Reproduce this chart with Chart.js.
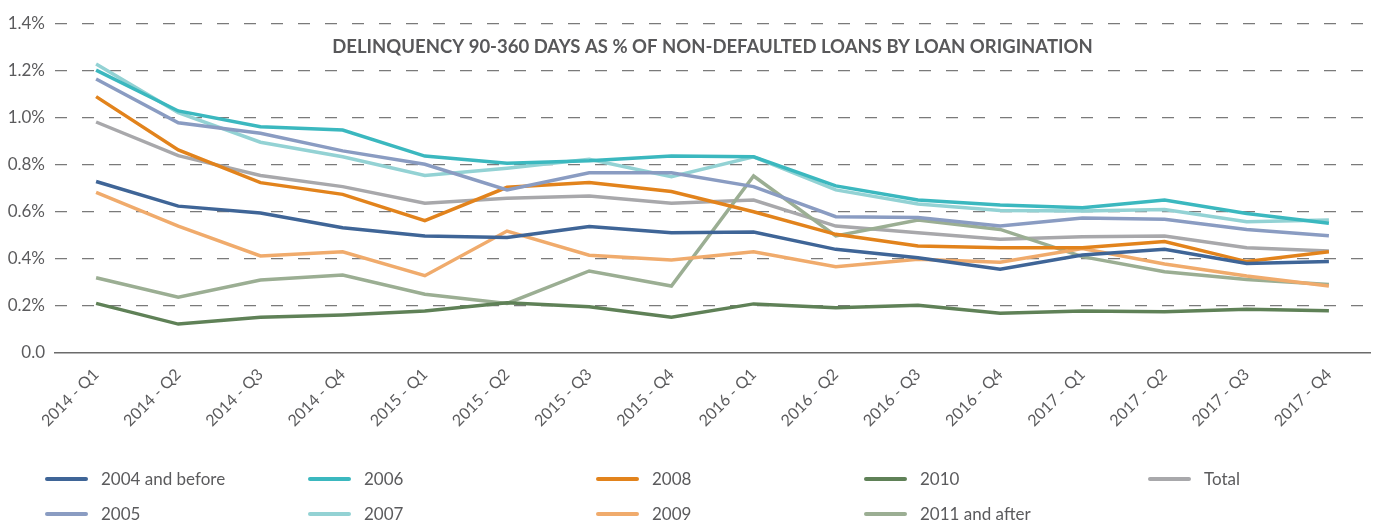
<!DOCTYPE html>
<html>
<head>
<meta charset="utf-8">
<script src="https://cdn.jsdelivr.net/npm/chart.js@4.4.1/dist/chart.umd.min.js"></script>
<style>
  html, body { margin: 0; padding: 0; background: #fff; }
  #wrap { width: 1384px; height: 525px; }
</style>
</head>
<body>
<div id="wrap"><canvas id="mychart" width="1384" height="525"></canvas></div>
<script>
// quarters on the x axis
const quarters = ['2014 - Q1','2014 - Q2','2014 - Q3','2014 - Q4',
  '2015 - Q1','2015 - Q2','2015 - Q3','2015 - Q4',
  '2016 - Q1','2016 - Q2','2016 - Q3','2016 - Q4',
  '2017 - Q1','2017 - Q2','2017 - Q3','2017 - Q4'];

// delinquency in %
const s2004 = [0.73, 0.625, 0.596, 0.533, 0.498, 0.492, 0.538, 0.512, 0.515, 0.441, 0.405, 0.356, 0.417, 0.441, 0.381, 0.389];
const s2005 = [1.166, 0.98, 0.935, 0.86, 0.803, 0.694, 0.767, 0.767, 0.708, 0.58, 0.577, 0.54, 0.574, 0.569, 0.526, 0.499];
const s2006 = [1.204, 1.03, 0.963, 0.949, 0.838, 0.807, 0.818, 0.838, 0.835, 0.711, 0.651, 0.63, 0.618, 0.651, 0.594, 0.552];
const s2007 = [1.23, 1.023, 0.897, 0.835, 0.755, 0.786, 0.824, 0.75, 0.835, 0.694, 0.634, 0.606, 0.604, 0.611, 0.559, 0.566];
const s2008 = [1.091, 0.864, 0.725, 0.675, 0.563, 0.705, 0.725, 0.687, 0.601, 0.505, 0.455, 0.448, 0.448, 0.474, 0.389, 0.431];
const s2009 = [0.684, 0.54, 0.413, 0.431, 0.329, 0.519, 0.416, 0.396, 0.431, 0.367, 0.399, 0.386, 0.445, 0.379, 0.328, 0.285];
const s2010 = [0.211, 0.123, 0.152, 0.162, 0.179, 0.214, 0.197, 0.152, 0.209, 0.193, 0.203, 0.169, 0.179, 0.176, 0.186, 0.18];
const s2011 = [0.32, 0.237, 0.311, 0.332, 0.25, 0.211, 0.349, 0.285, 0.753, 0.498, 0.566, 0.526, 0.41, 0.346, 0.313, 0.292];
const total = [0.983, 0.84, 0.755, 0.708, 0.637, 0.658, 0.668, 0.637, 0.651, 0.54, 0.512, 0.484, 0.495, 0.498, 0.448, 0.434];

const seriesNames = ['2004 and before','2005','2006','2007','2008','2009','2010','2011 and after','Total'];
const yTicks = [0, 0.2, 0.4, 0.6, 0.8, 1.0, 1.2, 1.4];
const chartTitle = 'DELINQUENCY 90-360 DAYS AS % OF NON-DEFAULTED LOANS BY LOAN ORIGINATION';

const colors = ['#3f6597','#8a9cc2','#3bb8bf','#93d2d4','#e2831c','#f0ab6c','#5f8157','#9bae93','#a8a8ab'];
const allData = [s2004, s2005, s2006, s2007, s2008, s2009, s2010, s2011, total];

const FONT = 'Lato, "Open Sans", sans-serif';
const TEXT = '#5b5b5d';

// title sits inside the plot + legend laid out in columns under the axis
const extras = {
  id: 'extras',
  afterDraw(chart) {
    const ctx = chart.ctx;
    const area = chart.chartArea;
    ctx.save();
    ctx.fillStyle = '#58585a';
    ctx.font = 'bold 18.5px ' + FONT;
    ctx.textAlign = 'center';
    ctx.textBaseline = 'middle';
    ctx.fillText(chartTitle, (area.left + area.right) / 2, area.top + 23);

    // columns: [2004,2005] [2006,2007] [2008,2009] [2010,2011] [Total]
    const colX = [47, 310, 598, 866, 1150];
    const rowY = [479, 514];
    ctx.font = '17px ' + FONT;
    ctx.textAlign = 'left';
    chart.data.datasets.forEach((ds, i) => {
      const col = Math.floor(i / 2);
      const row = i % 2;
      const x = colX[col], y = rowY[row];
      ctx.strokeStyle = ds.borderColor;
      ctx.lineWidth = 4;
      ctx.lineCap = 'round';
      ctx.beginPath();
      ctx.moveTo(x, y);
      ctx.lineTo(x + 39, y);
      ctx.stroke();
      ctx.fillStyle = TEXT;
      ctx.fillText(ds.label, x + 54, y + 1);
    });
    ctx.restore();
  }
};

const myChart = new Chart(document.getElementById('mychart'), {
  type: 'line',
  data: {
    labels: quarters,
    datasets: seriesNames.map((name, i) => ({
      label: name,
      data: allData[i],
      borderColor: colors[i],
      backgroundColor: colors[i],
      borderWidth: 3.5,
      pointRadius: 0,
      tension: 0,
      fill: false
    }))
  },
  options: {
    responsive: false,
    animation: false,
    layout: { padding: { top: 24, right: 14, bottom: 62, left: 0 } },
    plugins: {
      legend: { display: false },
      title: { display: false },
      tooltip: { enabled: false }
    },
    scales: {
      x: {
        offset: true,
        grid: { display: false, drawTicks: false },
        border: { display: true, color: '#6b6b6b', width: 1.5 },
        ticks: {
          autoSkip: false,
          maxRotation: 45,
          minRotation: 45,
          padding: 12,
          color: TEXT,
          font: { family: FONT, size: 16 }
        },
        afterFit(scale) { scale.height = 110; }
      },
      y: {
        min: 0,
        max: 1.4,
        afterBuildTicks(scale) { scale.ticks = yTicks.map(v => ({ value: v })); },
        grid: {
          drawTicks: false,
          lineWidth: 1.2,
          color: ctx => ctx.tick && ctx.tick.value === 0 ? 'rgba(0,0,0,0)' : '#7a7a7a'
        },
        border: { display: false, dash: [12, 15] },
        ticks: {
          padding: 10,
          color: TEXT,
          font: { family: FONT, size: 17 },
          callback: v => v === 0 ? '0.0' : v.toFixed(1) + '%'
        },
        afterFit(scale) { scale.width = 55; }
      }
    }
  },
  plugins: [extras]
});
</script>
</body>
</html>
